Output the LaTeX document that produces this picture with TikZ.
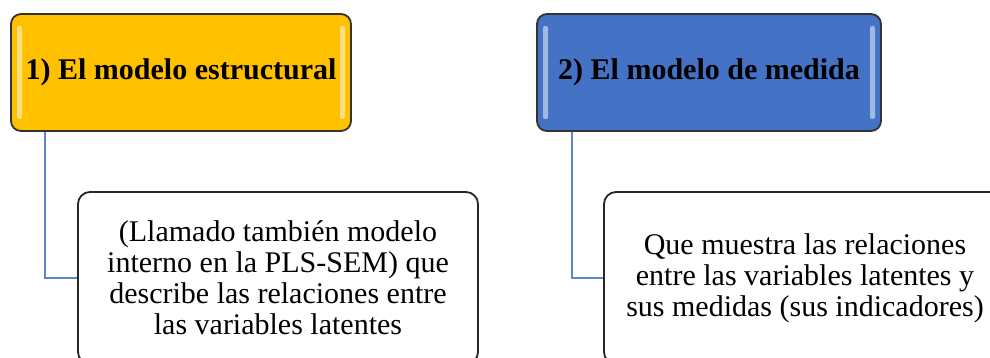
\documentclass[tikz,border=0pt]{standalone}
\usepackage{fontspec}
\setmainfont{Liberation Serif}
\newfontfamily\timesfont{Liberation Serif}
\usepackage{xcolor}
\usetikzlibrary{arrows}
\definecolor{gold}{HTML}{FFC000}
\definecolor{steel}{HTML}{4472C4}
\definecolor{edgeblue}{HTML}{5B85D0}
\tikzset{
	head node/.style={draw=black!80,line width=0.9pt,rounded corners=5pt,fill=#1,
		minimum height=58.5pt,inner sep=0pt,font=\timesfont\fontsize{15}{17}\selectfont\bfseries,
		path picture={
			\fill[white,opacity=0.5,rounded corners=1pt] ([xshift=3pt,yshift=-6pt]path picture bounding box.north west) rectangle ([xshift=5.5pt,yshift=6pt]path picture bounding box.south west);
			\fill[white,opacity=0.5,rounded corners=1pt] ([xshift=-3pt,yshift=-6pt]path picture bounding box.north east) rectangle ([xshift=-5.5pt,yshift=6pt]path picture bounding box.south east);
		}},
	text node/.style={draw=black!85,line width=0.9pt,rounded corners=6pt,fill=white,align=center,
		minimum height=86pt,inner sep=0pt,font=\timesfont\fontsize{15}{15.5}\selectfont},
	link/.style={draw=edgeblue,line width=1pt}
}
\begin{document}
\begin{tikzpicture}[x=0.5pt,y=-0.5pt]
	\useasboundingbox (0,0) rectangle (990,358);
	\clip (0,0) rectangle (990,358);
	\node [head node=gold,minimum width=170pt] (1) at (181,72.5) {1) El modelo estructural};
	\node [head node=steel,minimum width=172pt] (2) at (709,72.5) {2) El modelo de medida};
	\node [text node,minimum width=200pt] (3) at (278,278) {(Llamado también modelo\\interno en la PLS-SEM) que\\describe las relaciones entre\\las variables latentes};
	\node [text node,minimum width=201pt] (4) at (805,278) {Que muestra las relaciones\\entre las variables latentes y\\sus medidas (sus indicadores)};
	\draw [link] ([xshift=17.5pt]1.south west) |- (3.west);
	\draw [link] ([xshift=18pt]2.south west) |- (4.west);
\end{tikzpicture}
\end{document}
